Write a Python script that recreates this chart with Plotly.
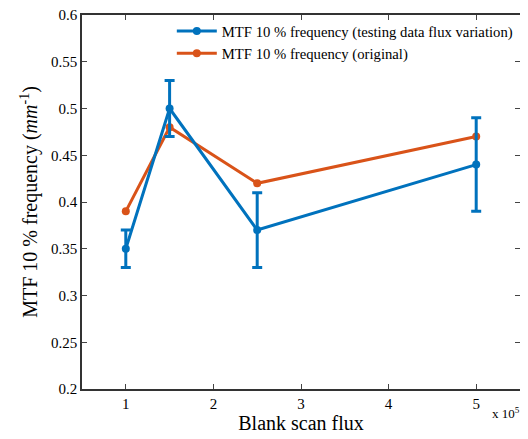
import plotly.graph_objects as go

flux = [1, 1.5, 2.5, 5]
mtf_testing = [0.35, 0.50, 0.37, 0.44]
mtf_testing_err = [0.02, 0.03, 0.04, 0.05]
mtf_original = [0.39, 0.48, 0.42, 0.47]
y_ticks = [0.2, 0.25, 0.3, 0.35, 0.4, 0.45, 0.5, 0.55, 0.6]
y_ticklabels = ["0.2", "0.25", "0.3", "0.35", "0.4", "0.45", "0.5", "0.55", "0.6"]
x_ticks = [1, 2, 3, 4, 5]

blue = "#0072BD"
orange = "#D95319"
font = "Liberation Serif, Times New Roman, serif"

fig = go.Figure()
fig.add_trace(go.Scatter(
    x=flux, y=mtf_original, mode="lines+markers",
    name="MTF 10 % frequency (original)",
    line=dict(color=orange, width=3), marker=dict(size=8, color=orange),
))
fig.add_trace(go.Scatter(
    x=flux, y=mtf_testing, mode="lines+markers",
    name="MTF 10 % frequency (testing data flux variation)",
    line=dict(color=blue, width=3), marker=dict(size=8, color=blue),
    error_y=dict(type="data", array=mtf_testing_err, color=blue, thickness=3, width=5),
))

# page body has an 8px default margin, so the figure is drawn 8px smaller
fig.update_layout(
    width=520, height=431,
    margin=dict(l=74, r=8, t=7, b=50),
    paper_bgcolor="white", plot_bgcolor="white",
    font=dict(family=font, color="black"),
    showlegend=True,
    legend=dict(x=0.995, y=1.0, xanchor="right", yanchor="top",
                traceorder="reversed", bgcolor="rgba(255,255,255,0)",
                font=dict(size=14.7, family=font), itemwidth=40,
                tracegroupgap=0, borderwidth=0),
    xaxis=dict(range=[0.5, 5.5], tickvals=x_ticks, ticks="inside", ticklen=5,
               showline=True, linecolor="#333", linewidth=1.5, mirror="ticks",
               showgrid=False, zeroline=False, tickfont=dict(size=15, family=font),
               automargin=False, ticklabeloverflow="allow",
               title=dict(text="Blank scan flux", font=dict(size=20, family=font), standoff=4)),
    yaxis=dict(range=[0.2, 0.6], tickvals=y_ticks, ticktext=y_ticklabels, ticks="inside", ticklen=5,
               showline=True, linecolor="#333", linewidth=1.5, mirror="ticks",
               showgrid=False, zeroline=False, tickfont=dict(size=15, family=font),
               automargin=False, ticklabeloverflow="allow",
               title=dict(text="MTF 10 % frequency (<i>mm</i><sup>-1</sup>)",
                          font=dict(size=20, family=font), standoff=8)),
)
fig.add_annotation(x=1, y=0, xref="paper", yref="paper", xanchor="right", yanchor="top",
                   yshift=-14, xshift=2, showarrow=False,
                   text="x 10<sup>5</sup>", font=dict(size=13, family=font))

fig.write_html("out.html")
